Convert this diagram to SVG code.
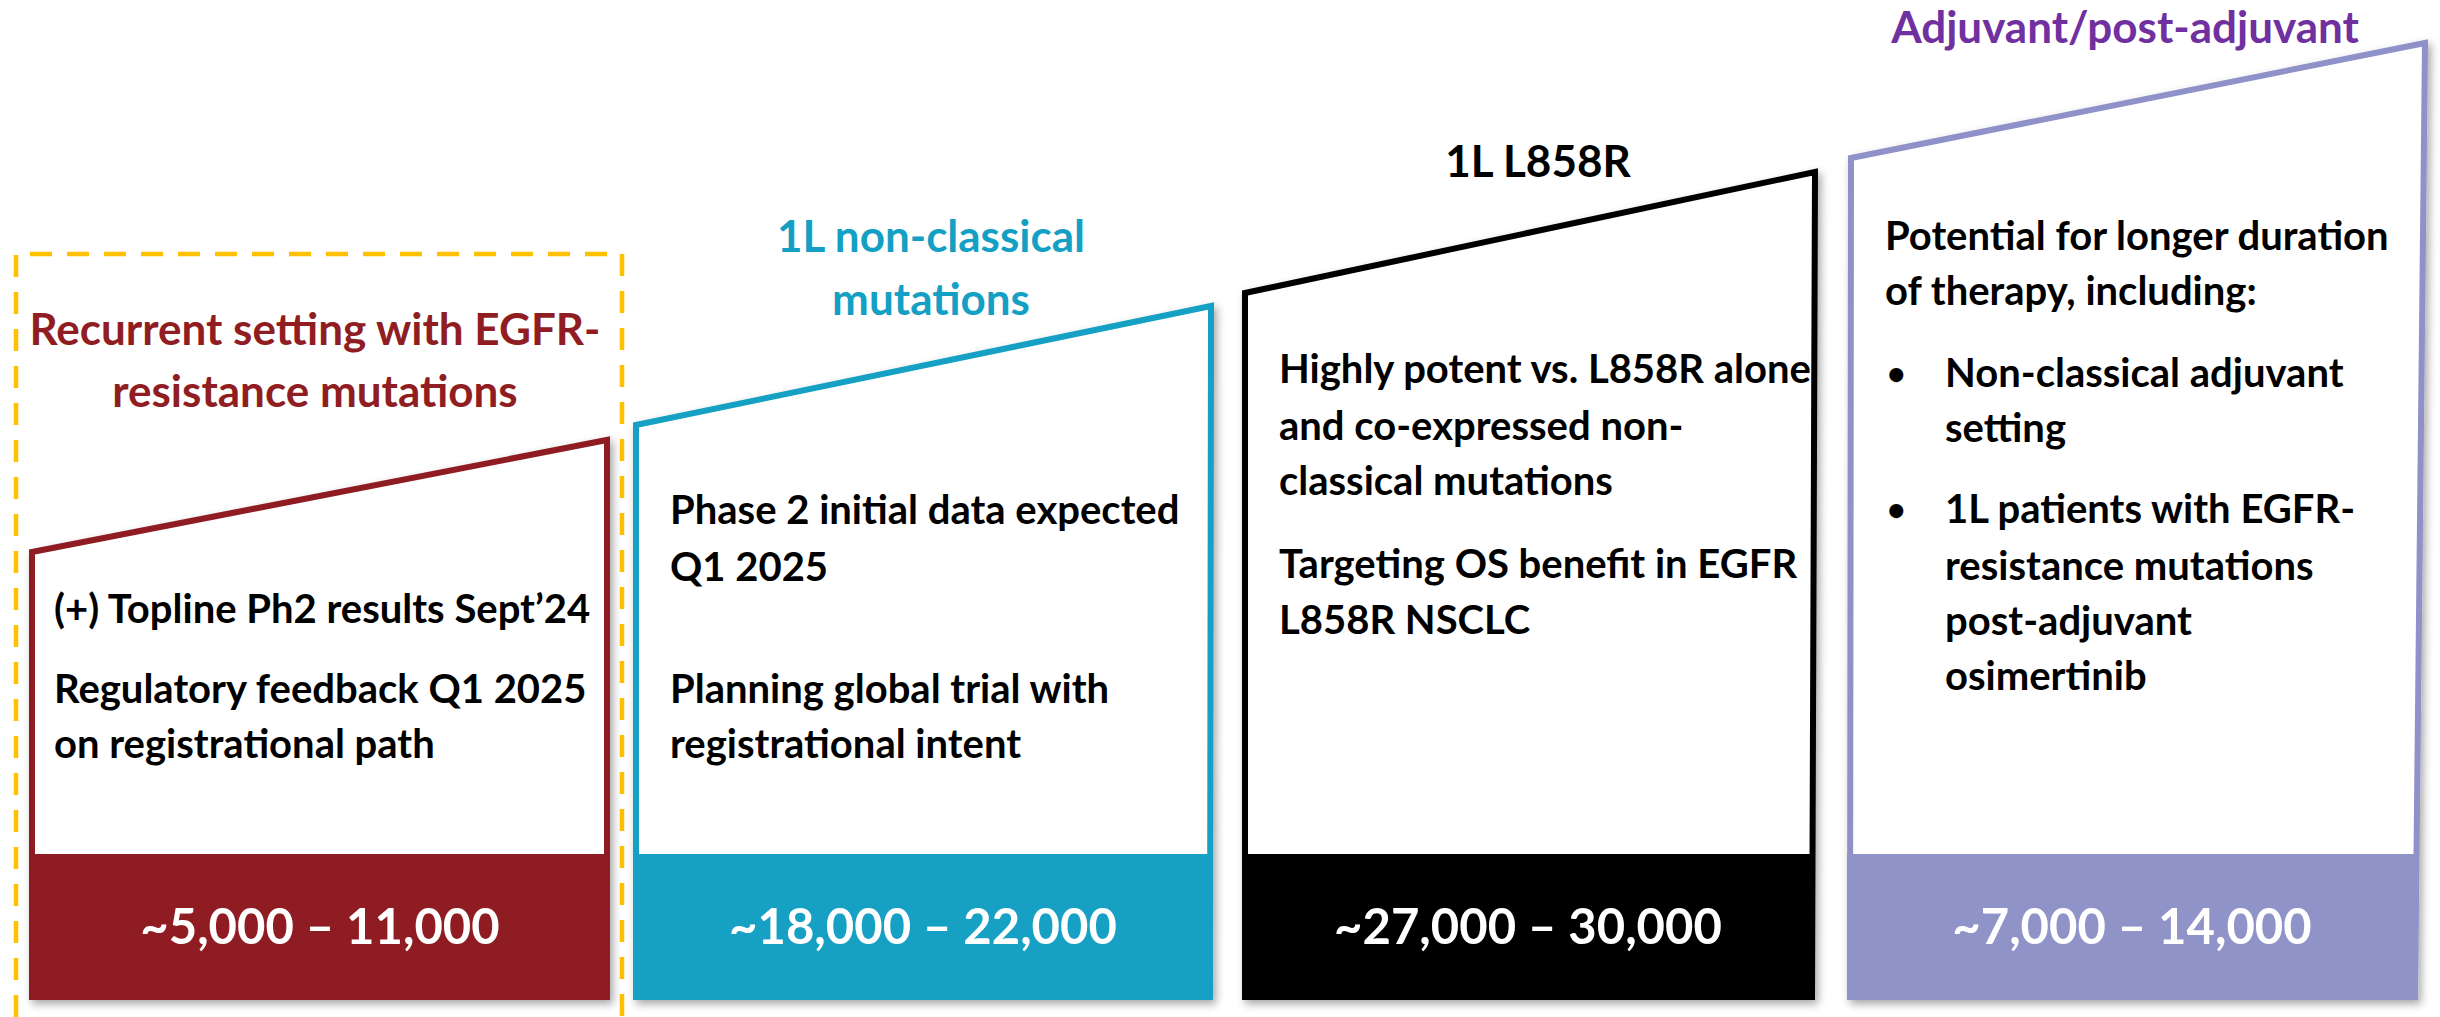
<svg xmlns="http://www.w3.org/2000/svg" width="2440" height="1017" viewBox="0 0 2440 1017">
<defs>
<filter id="sh" x="-10%" y="-10%" width="120%" height="120%">
<feDropShadow dx="3" dy="4" stdDeviation="4" flood-color="#000" flood-opacity="0.35"/>
</filter>
</defs>
<style>
text{font-family:Lato,"Open Sans","Liberation Sans",sans-serif;font-weight:700}
.title{font-size:44px;text-anchor:middle}
.body{font-size:40px;fill:#000}
.bullet{font-size:32px;fill:#000}
.num{font-size:49px;fill:#fff;text-anchor:middle}
.box{fill:#fff;stroke-width:6;stroke-linejoin:miter}
</style>
<rect width="2440" height="1017" fill="#fff"/>
<g id="focus-frame">
<path d="M16 1017 V254 H622 V1017" fill="none" stroke="#FFC000" stroke-width="4.5" stroke-dasharray="22 15"/>
</g>
<g id="node-recurrent">
<g filter="url(#sh)">
<polygon class="box" points="32,552 607,440 607,997 32,997" stroke="#8F1D21"/>
<rect x="29" y="854" width="581" height="146" fill="#8F1D21"/>
</g>
<text class="title" x="315" y="345" fill="#8F1D21">Recurrent setting with EGFR-</text>
<text class="title" x="315" y="407" fill="#8F1D21">resistance mutations</text>
<text class="body" x="54" y="623">(+) Topline Ph2 results Sept’24</text>
<text class="body" x="54" y="703">Regulatory feedback Q1 2025</text>
<text class="body" x="54" y="758">on registrational path</text>
<text class="num" x="320" y="944">~5,000 – 11,000</text>
</g>
<g id="node-nonclassical">
<g filter="url(#sh)">
<polygon class="box" points="636,425 1211,306 1210,997 636,997" stroke="#13A0C4"/>
<rect x="633" y="854" width="580" height="146" fill="#13A0C4"/>
</g>
<text class="title" x="931" y="252" fill="#13A0C4">1L non-classical</text>
<text class="title" x="931" y="315" fill="#13A0C4">mutations</text>
<text class="body" x="670" y="524">Phase 2 initial data expected</text>
<text class="body" x="670" y="581">Q1 2025</text>
<text class="body" x="670" y="703">Planning global trial with</text>
<text class="body" x="670" y="758">registrational intent</text>
<text class="num" x="923" y="944">~18,000 – 22,000</text>
</g>
<g id="node-l858r">
<g filter="url(#sh)">
<polygon class="box" points="1245,293 1815,172 1812,997 1245,997" stroke="#000"/>
<rect x="1242" y="854" width="573" height="146" fill="#000"/>
</g>
<text class="title" x="1538" y="177" fill="#000">1L L858R</text>
<text class="body" x="1279" y="383">Highly potent vs. L858R alone</text>
<text class="body" x="1279" y="440">and co-expressed non-</text>
<text class="body" x="1279" y="495">classical mutations</text>
<text class="body" x="1279" y="578">Targeting OS benefit in EGFR</text>
<text class="body" x="1279" y="634">L858R NSCLC</text>
<text class="num" x="1528" y="944">~27,000 – 30,000</text>
</g>
<g id="node-adjuvant">
<g filter="url(#sh)">
<polygon class="box" points="1851,158 2425,43 2415,997 1850,997" stroke="#8E92C8"/>
<rect x="1847" y="854" width="571" height="146" fill="#8F93C8"/>
</g>
<text class="title" x="2125" y="43" fill="#7030A0">Adjuvant/post-adjuvant</text>
<text class="body" x="1885" y="250">Potential for longer duration</text>
<text class="body" x="1885" y="305">of therapy, including:</text>
<text class="bullet" x="1887" y="385">•</text>
<text class="body" x="1945" y="387">Non-classical adjuvant</text>
<text class="body" x="1945" y="442">setting</text>
<text class="bullet" x="1887" y="521">•</text>
<text class="body" x="1945" y="523">1L patients with EGFR-</text>
<text class="body" x="1945" y="580">resistance mutations</text>
<text class="body" x="1945" y="635">post-adjuvant</text>
<text class="body" x="1945" y="690">osimertinib</text>
<text class="num" x="2132" y="944">~7,000 – 14,000</text>
</g>
</svg>
